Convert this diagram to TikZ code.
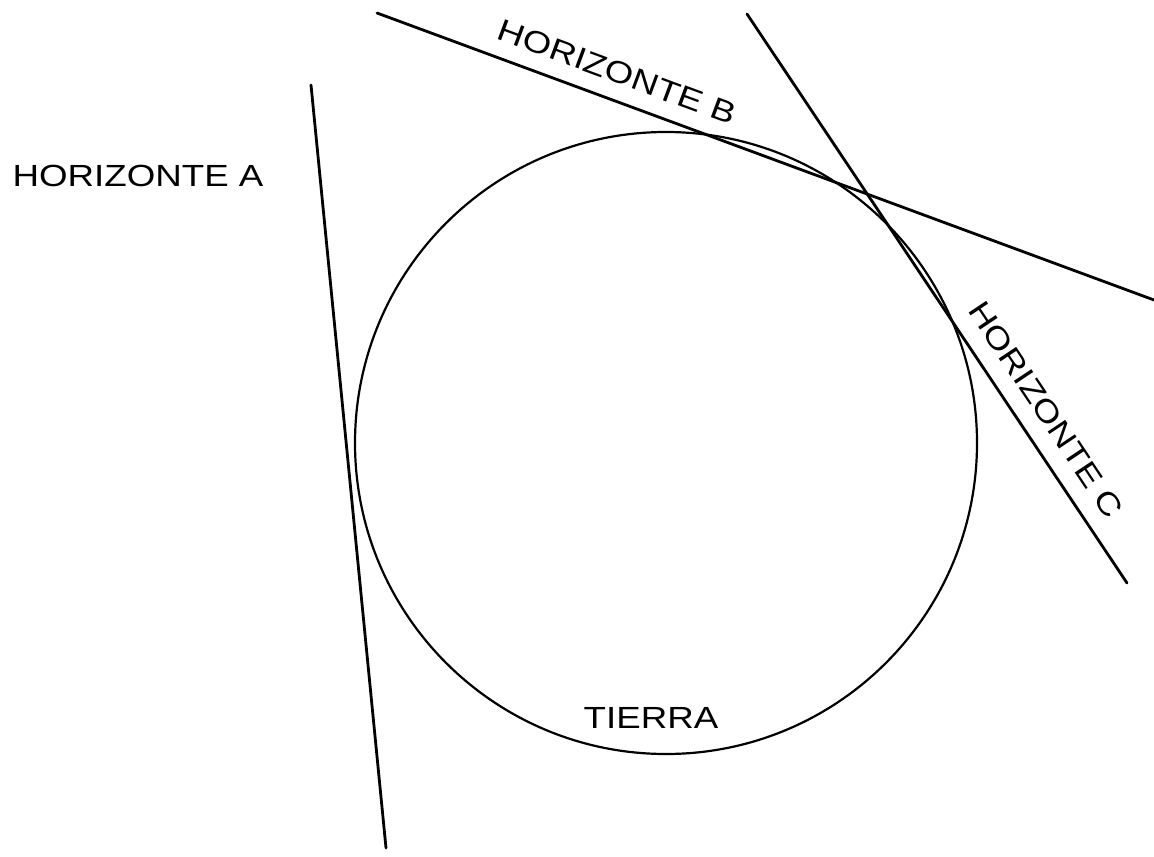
\documentclass[tikz,border=0pt]{standalone}
\usepackage{fontspec}
\setmainfont{Liberation Sans}
\usetikzlibrary{positioning}

\begin{document}
\begin{tikzpicture}[
    x=0.5pt, y=-0.5pt,
    horizonte/.style={line width=1.4pt, line cap=round},
    tierra/.style={line width=1.1pt},
    rotulo/.style={font=\fontsize{15.3}{18}\selectfont, inner sep=0pt, xscale=1.2}
]
\useasboundingbox (0,0) rectangle (1154,856);

% Tierra
\coordinate (centro) at (666,443);
\draw[tierra] (centro) circle[radius=311];
\node[rotulo] (tierralbl) at (651,718) {TIERRA};

% Horizonte end points
\coordinate (a1) at (311,85);
\coordinate (a2) at (386,848);
\coordinate (b1) at (377,13);
\coordinate (b2) at (1154,300);
\coordinate (c1) at (747,14);
\coordinate (c2) at (1127,583);

% Horizontes
\draw[horizonte] (a1) -- (a2);
\draw[horizonte] (b1) -- (b2);
\draw[horizonte] (c1) -- (c2);

% Labels
\node[rotulo] (horA) at (138,176) {HORIZONTE A};
\node[rotate=-20.3, rotulo] (horB) at (617,72) {HORIZONTE B};
\node[rotate=-56.3, rotulo] (horC) at (1046,410) {HORIZONTE C};

\end{tikzpicture}
\end{document}
